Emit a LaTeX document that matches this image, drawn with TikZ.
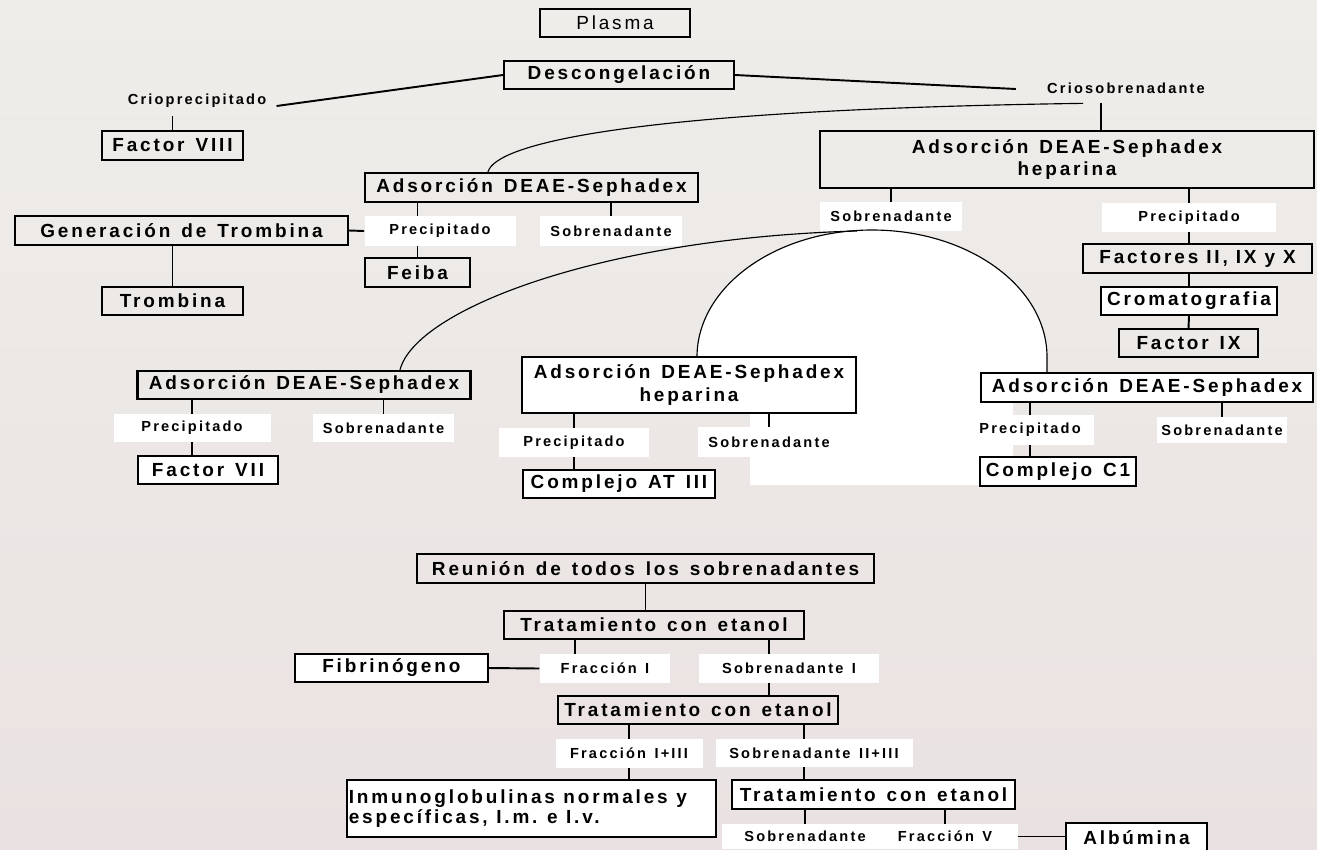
\documentclass[tikz,border=0pt]{standalone}
\usepackage{fontspec}
\setmainfont{Liberation Sans}
\newfontfamily\cajafont[LetterSpace=15,WordSpace=1.35]{Liberation Sans}
\usetikzlibrary{calc}
\pgfdeclarelayer{background}
\pgfsetlayers{background,main}
\definecolor{fondoarriba}{RGB}{238,237,233}
\definecolor{fondoabajo}{RGB}{234,226,226}

\begin{document}
\begin{tikzpicture}[
  x=0.02cm, y=-0.02cm,
  every node/.style={inner sep=0pt, font=\cajafont\bfseries\fontsize{10.8}{13}\selectfont},
  sz/.style 2 args={minimum width=#1*0.02cm, minimum height=#2*0.02cm},
  caja/.style={draw, line width=1.2pt},
  cajab/.style={caja, fill=white},
  etiq/.style={fill=white, font=\cajafont\bfseries\fontsize{8.3}{10}\selectfont},
  crio/.style={font=\cajafont\bfseries\fontsize{8.3}{10}\selectfont, minimum height=30*0.02cm},
  enlace/.style={line width=1.1pt},
  curva/.style={line width=0.65pt}
]
\useasboundingbox (0,0) rectangle (1317,849);

% fondo y zona blanca bajo el arco
\begin{pgfonlayer}{background}
  \shade[top color=fondoarriba, bottom color=fondoabajo] (0,0) rectangle (1317,849);
  \fill[white] (697,357) arc[start angle=180, end angle=360, x radius=175, y radius=127]
    -- (1047,373) -- (1013,373) -- (1013,485) -- (750,485) -- (750,413) -- (697,413) -- cycle;
\end{pgfonlayer}

% parte superior
\node[caja, sz={150}{28}, font=\cajafont\fontsize{10.8}{13}\selectfont] (plasma) at (615,23) {Plasma};
\node[caja, sz={230}{28}] (desc) at (619,75) {Descongelación};
\node[crio] (crioP) at (197,101) {Crioprecipitado};
\node[crio] (crioS) at (1126,88) {Criosobrenadante};
\node[caja, sz={141}{29}] (fac8) at (172.5,145.5) {Factor VIII};

\draw[enlace] ([shift={(10,5)}]crioP.east) -- (desc.west);
\draw[enlace] (desc.east) -- ([shift={(-31,1)}]crioS.west);
\draw[enlace] (crioP.south -| fac8) -- (fac8.north);

% criosobrenadante: heparina
\node[caja, sz={494}{57}, align=center] (adsH) at (1067,159.5) {Adsorción DEAE-Sephadex\\heparina};
\node[etiq, sz={142}{29}] (sobB) at (891,216.5) {Sobrenadante};
\node[etiq, sz={174}{29}] (precB) at (1189,217.5) {Precipitado};
\node[caja, sz={229}{29}] (fact) at (1197.5,258.5) {\spaceskip=.42em Factores II, IX y X};
\node[cajab, sz={176}{28}] (croma) at (1189,301) {Cromatografia};
\node[caja, sz={139}{28}] (fac9) at (1188.5,343) {Factor IX};

\draw[enlace] ([shift={(-25,0)}]crioS.south) -- ([shift={(-25,0)}]crioS.south |- adsH.north);
\draw[enlace] (adsH.south -| sobB) -- (sobB.north);
\draw[enlace] (adsH.south -| precB) -- (precB.north);
\draw[enlace] (precB.south) -- (precB.south |- fact.north);
\draw[enlace] (fact.south -| croma) -- (croma.north);
\draw[enlace] (croma.south) -- (fac9.north);

% criosobrenadante: DEAE-Sephadex
\node[caja, sz={333}{29}] (adsL) at (531.5,187.5) {Adsorción DEAE-Sephadex};
\node[caja, sz={333}{29}] (genT) at (181.5,230.5) {Generación de Trombina};
\node[etiq, sz={151}{30}] (precA) at (440,231) {Precipitado};
\node[etiq, sz={142}{30}] (sobA) at (611,231) {Sobrenadante};
\node[caja, sz={105}{29}] (feiba) at (417.5,272.5) {Feiba};
\node[caja, sz={141}{28}] (tromb) at (172.5,301) {Trombina};

\draw[curva] ([shift={(-43.5,0)}]adsL.north) .. controls (495,145) and (620,110) .. ([shift={(-43,0)}]crioS.south);
\draw[enlace] (genT.east) -- (precA.west);
\draw[enlace] (adsL.south -| feiba) -- (precA.north -| feiba);
\draw[enlace] (precA.south -| feiba) -- (feiba.north);
\draw[enlace] (adsL.south -| sobA) -- (sobA.north);
\draw[enlace] (genT.south -| tromb) -- (tromb.north);

% sobrenadante: tres adsorciones
\coordinate (split) at (857,231);
\node[caja, sz={333}{28}] (adsBL) at (304,385) {Adsorción DEAE-Sephadex};
\node[etiq, sz={157}{28}] (precC) at (192,428) {Precipitado};
\node[etiq, sz={141}{28}] (sobC) at (383.5,428) {Sobrenadante};
\node[cajab, sz={140.5}{28}] (fac7) at (208,470) {Factor VII};

\node[cajab, sz={333.5}{56}, align=center] (adsHC) at (689,385) {Adsorción DEAE-Sephadex\\heparina};
\node[etiq, sz={150}{29}] (precD) at (574,442.5) {Precipitado};
\node[etiq, sz={142}{30}] (sobD) at (769,442) {Sobrenadante};
\node[cajab, sz={192.5}{28}] (atIII) at (619,484) {Complejo AT III};

\node[cajab, sz={332}{29}] (adsBR) at (1147,387.5) {Adsorción DEAE-Sephadex};
\node[etiq, sz={128}{30}] (precE) at (1030,430) {Precipitado};
\node[etiq, sz={130}{26}] (sobE) at (1222,430) {Sobrenadante};
\node[cajab, sz={156}{29}] (c1) at (1058,471.5) {Complejo C1};

\draw[curva] (split) .. controls (600,238) and (415,310) .. ([shift={(96,0)}]adsBL.north);
\draw[curva] (697,357) arc[start angle=180, end angle=360, x radius=175, y radius=127] -- (1047,373);
\draw[enlace] (adsBL.south -| precC) -- (precC.north);
\draw[enlace] (precC.south) -- (precC.south |- fac7.north);
\draw[enlace] (adsBL.south -| sobC) -- (sobC.north);
\draw[enlace] (adsHC.south -| precD) -- (precD.north);
\draw[enlace] (precD.south) -- (precD.south |- atIII.north);
\draw[enlace] (adsHC.south -| sobD) -- (sobD.north);
\draw[enlace] (adsBR.south -| precE) -- (precE.north);
\draw[enlace] (precE.south) -- (precE.south |- c1.north);
\draw[enlace] (adsBR.south -| sobE) -- (sobE.north);

% reunion y etanol
\node[caja, sz={457}{29}] (reunion) at (645.5,568.5) {Reunión de todos los sobrenadantes};
\node[caja, sz={300}{28}] (trat1) at (654,625) {Tratamiento con etanol};
\node[etiq, sz={130.5}{29}] (fracI) at (605,668.5) {Fracción I};
\node[etiq, sz={180}{29}] (sobI) at (789,668.5) {Sobrenadante I};
\node[cajab, sz={193.4}{28}] (fibr) at (391.3,668) {Fibrinógeno};
\node[caja, sz={280.5}{28}] (trat2) at (698,710) {Tratamiento con etanol};
\node[etiq, sz={147}{29}] (fracIII) at (629,753.5) {Fracción I+III};
\node[etiq, sz={197}{28}] (sobII) at (814,753) {Sobrenadante II+III};
\node[cajab, sz={368.6}{57}, text width=7.3cm, inner xsep=2*0.02cm, align=left,
  font=\cajafont\bfseries\fontsize{10.8}{11}\selectfont] (inmuno) at (531.3,808.5)
  {\spaceskip=.45em Inmunoglobulinas normales y\\específicas, I.m. e I.v.};
\node[cajab, sz={283}{29}] (trat3) at (873.5,794.5) {Tratamiento con etanol};
\node[etiq, sz={166}{25}] (sobF) at (805,836.5) {Sobrenadante};
\node[etiq, sz={146}{25}] (fracV) at (945,836.5) {Fracción V};
\node[cajab, sz={141}{30}] (alb) at (1136.5,838) {Albúmina};

\draw[enlace] (reunion.south) -- (reunion.south |- trat1.north);
\draw[enlace] ([shift={(-30,0)}]fracI.north) -- ([shift={(-30,0)}]fracI.north |- trat1.south);
\draw[enlace] ([shift={(-20,0)}]sobI.north) -- ([shift={(-20,0)}]sobI.north |- trat1.south);
\draw[enlace] (fibr.east) -- (fracI.west);
\draw[enlace] ([shift={(-20,0)}]sobI.south) -- ([shift={(-20,0)}]sobI.south |- trat2.north);
\draw[enlace] (trat2.south -| fracIII) -- (fracIII.north);
\draw[enlace] (fracIII.south) -- (fracIII.south |- inmuno.north);
\draw[enlace] ([shift={(-10,0)}]sobII.north) -- ([shift={(-10,0)}]sobII.north |- trat2.south);
\draw[enlace] ([shift={(-10,0)}]sobII.south) -- ([shift={(-10,0)}]sobII.south |- trat3.north);
\draw[enlace] (trat3.south -| sobF) -- (sobF.north);
\draw[enlace] (trat3.south -| fracV) -- (fracV.north);
\draw[enlace] (fracV.east) -- (alb.west |- fracV.east);

\end{tikzpicture}
\end{document}
